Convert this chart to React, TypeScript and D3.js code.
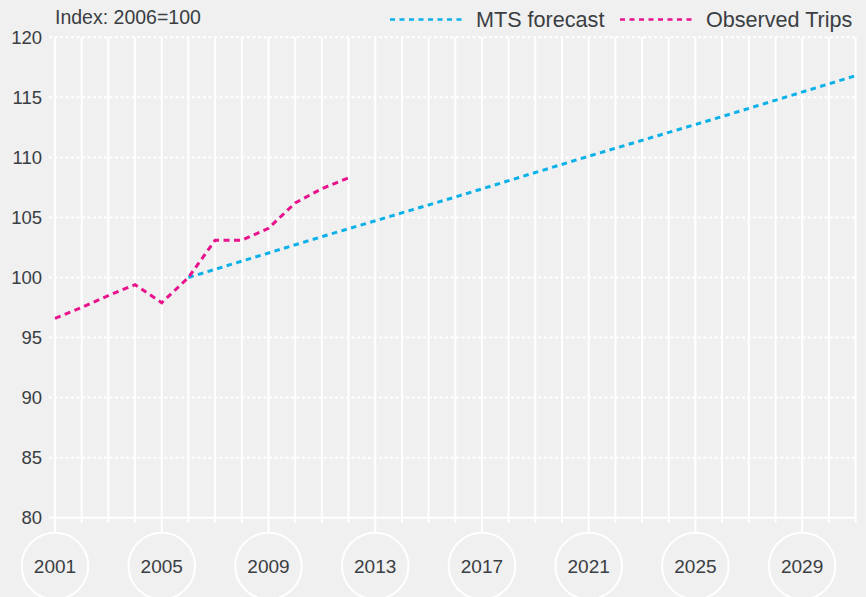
import React, { useEffect, useRef } from 'react';
import * as d3 from 'd3';

const observedYears = [2001, 2002, 2003, 2004, 2005, 2006, 2007, 2008, 2009, 2010, 2011, 2012];
const observedValues = [96.6, 97.5, 98.5, 99.4, 97.9, 100, 103.1, 103.1, 104.1, 106.2, 107.4, 108.3];

const forecastYears = [2006, 2011, 2016, 2021, 2026, 2031];
const forecastValues = [100, 103.4, 106.7, 110.1, 113.4, 116.8];

const yTicks = [80, 85, 90, 95, 100, 105, 110, 115, 120];
const majorYears = [2001, 2005, 2009, 2013, 2017, 2021, 2025, 2029];

const W = 866;
const H = 597;
const BG = '#eff0ef';
const TEXT = '#3b3e43';
const BLUE = '#0ab0e8';
const PINK = '#e8128c';
const FONT = '"Liberation Sans", Arial, sans-serif';

const App: React.FC = () => {
    const svgRef = useRef<SVGSVGElement>(null);

    useEffect(() => {
        if (!svgRef.current) return;
        const svg = d3.select(svgRef.current);
        svg.selectAll('*').remove();

        const x = d3.scaleLinear().domain([2001, 2031]).range([55, 855.5]);
        const y = d3.scaleLinear().domain([80, 120]).range([517.7, 37.3]);
        const gridLeft = 49;
        const gridRight = 855.5;

        svg.append('rect').attr('width', W).attr('height', H).attr('fill', BG);

        // vertical year lines
        const years = d3.range(2001, 2032);
        svg.append('g')
            .selectAll('line')
            .data(years)
            .enter()
            .append('line')
            .attr('x1', d => x(d))
            .attr('x2', d => x(d))
            .attr('y1', y(120))
            .attr('y2', d => (majorYears.includes(d) ? 533 : y(80) + 5))
            .attr('stroke', '#fff')
            .attr('stroke-width', 2);

        // horizontal dotted lines
        svg.append('g')
            .selectAll('line')
            .data(yTicks)
            .enter()
            .append('line')
            .attr('x1', gridLeft)
            .attr('x2', gridRight)
            .attr('y1', d => y(d))
            .attr('y2', d => y(d))
            .attr('stroke', '#fff')
            .attr('stroke-width', 2)
            .attr('stroke-dasharray', d => (d === 80 ? null : '3,2.5'));

        // y labels
        svg.append('g')
            .selectAll('text')
            .data(yTicks)
            .enter()
            .append('text')
            .attr('x', 42)
            .attr('y', d => y(d))
            .attr('dy', '0.36em')
            .attr('text-anchor', 'end')
            .style('font-family', FONT)
            .style('font-size', '18.5px')
            .style('fill', TEXT)
            .text(d => d);

        // year circles
        const yc = 566;
        const circ = svg.append('g')
            .selectAll('g')
            .data(majorYears)
            .enter()
            .append('g');
        circ.append('circle')
            .attr('cx', d => x(d))
            .attr('cy', yc)
            .attr('r', 33.3)
            .attr('fill', 'none')
            .attr('stroke', '#fff')
            .attr('stroke-width', 2);
        circ.append('text')
            .attr('x', d => x(d))
            .attr('y', yc)
            .attr('dy', '0.36em')
            .attr('text-anchor', 'middle')
            .style('font-family', FONT)
            .style('font-size', '19px')
            .style('fill', TEXT)
            .text(d => d);

        const line = d3.line<[number, number]>()
            .x(d => x(d[0]))
            .y(d => y(d[1]));

        const fc = forecastYears.map((yr, i) => [yr, forecastValues[i]] as [number, number]);
        const ob = observedYears.map((yr, i) => [yr, observedValues[i]] as [number, number]);

        svg.append('path')
            .attr('d', line(fc))
            .attr('fill', 'none')
            .attr('stroke', BLUE)
            .attr('stroke-width', 3)
            .attr('stroke-dasharray', '5.5,4.5');

        svg.append('path')
            .attr('d', line(ob))
            .attr('fill', 'none')
            .attr('stroke', PINK)
            .attr('stroke-width', 3)
            .attr('stroke-dasharray', '6,4.5');

        // header
        svg.append('text')
            .attr('x', 55)
            .attr('y', 24)
            .style('font-family', FONT)
            .style('font-size', '19.5px')
            .style('fill', TEXT)
            .text('Index: 2006=100');

        const legend = [
            { label: 'MTS forecast', color: BLUE, x0: 390 },
            { label: 'Observed Trips', color: PINK, x0: 620 },
        ];
        const lg = svg.append('g').selectAll('g').data(legend).enter().append('g');
        lg.append('line')
            .attr('x1', d => d.x0)
            .attr('x2', d => d.x0 + 75)
            .attr('y1', 19.5)
            .attr('y2', 19.5)
            .attr('stroke', d => d.color)
            .attr('stroke-width', 2.5)
            .attr('stroke-dasharray', '5,4.5');
        lg.append('text')
            .attr('x', d => d.x0 + 86)
            .attr('y', 27)
            .style('font-family', FONT)
            .style('font-size', '21.6px')
            .style('fill', TEXT)
            .text(d => d.label);
    }, []);

    return (
        <div style={{ position: 'absolute', left: 0, top: 0 }}>
            <svg ref={svgRef} width={W} height={H} style={{ display: 'block' }} />
        </div>
    );
};

export default App;
